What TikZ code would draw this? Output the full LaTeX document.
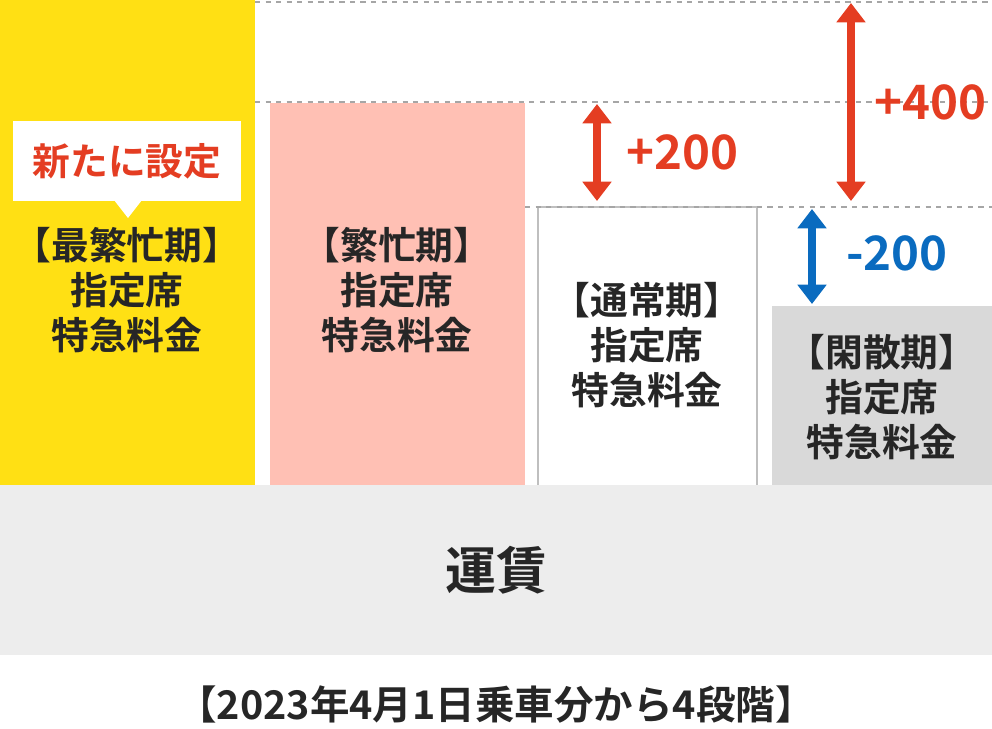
\documentclass[tikz,border=0pt]{standalone}
\usepackage{fontspec}
\setmainfont{Noto Sans CJK JP}[BoldFont={* Bold}]
\usetikzlibrary{arrows.meta,shapes.callouts}
\definecolor{ylw}{HTML}{FFE014}
\definecolor{pnk}{HTML}{FFC0B4}
\definecolor{gry}{HTML}{D9D9D9}
\definecolor{band}{HTML}{EDEDED}
\definecolor{red1}{HTML}{E43D22}
\definecolor{blu1}{HTML}{0A6BBF}
\tikzset{
every node/.style={font=\bfseries\fontsize{21.5}{25.5}\selectfont, align=center, text=black!85}
, guide/.style={gray!70, dashed, line width=0.6pt}
, diff/.style={line width=4.5pt, {Triangle[width=16pt,length=11pt]}-{Triangle[width=16pt,length=11pt]}}
, difflabel/.style={font=\bfseries\fontsize{27}{30}\selectfont, anchor=west}}
\begin{document}
\begin{tikzpicture}[x=0.02cm,y=-0.02cm]
\useasboundingbox (0,0) rectangle (992,728);
% columns
\fill[ylw] (0,0) rectangle (255,485);
\fill[pnk] (270,103) rectangle (525,485);
\draw[gray!50, line width=0.8pt] (538,485) -- (538,207) -- (757,207) -- (757,485);
\fill[gry] (772,306) rectangle (992,485);
\fill[band] (0,485) rectangle (992,655);
% guide lines
\draw[guide] (255,2) -- (992,2);
\draw[guide] (255,102) -- (992,102);
\draw[guide] (525,207) -- (992,207);
% callout
\fill[white] (13,121) rectangle (241,201);
\fill[white] (114,200) -- (128,218) -- (142,200) -- cycle;
\node[text=red1] (newlbl) at (127,161) {新たに設定};
% texts
\node (peak2) at (127,290) {【最繁忙期】\\指定席\\特急料金};
\node (peak) at (397,290) {【繁忙期】\\指定席\\特急料金};
\node (normal) at (647,345) {【通常期】\\指定席\\特急料金};
\node (off) at (882,397) {【閑散期】\\指定席\\特急料金};
\node[font=\bfseries\fontsize{29}{34}\selectfont] (fare) at (496,570) {運賃};
\node[font=\bfseries\fontsize{22.5}{26}\selectfont] (note) at (496,705) {【2023年4月1日乗車分から4段階】};
% differences
\coordinate (a1) at (597,104); \coordinate (a2) at (597,201);
\coordinate (b1) at (851,3); \coordinate (b2) at (851,201);
\coordinate (c1) at (812,209); \coordinate (c2) at (812,304);
\draw[diff, red1] (a1) -- (a2);
\draw[diff, red1] (b1) -- (b2);
\draw[diff, blu1] (c1) -- (c2);
\node[difflabel, text=red1] (p200) at (620,152) {+200};
\node[difflabel, text=red1] (p400) at (868,102) {+400};
\node[difflabel, text=blu1] (m200) at (840,253) {-200};
\end{tikzpicture}
\end{document}
